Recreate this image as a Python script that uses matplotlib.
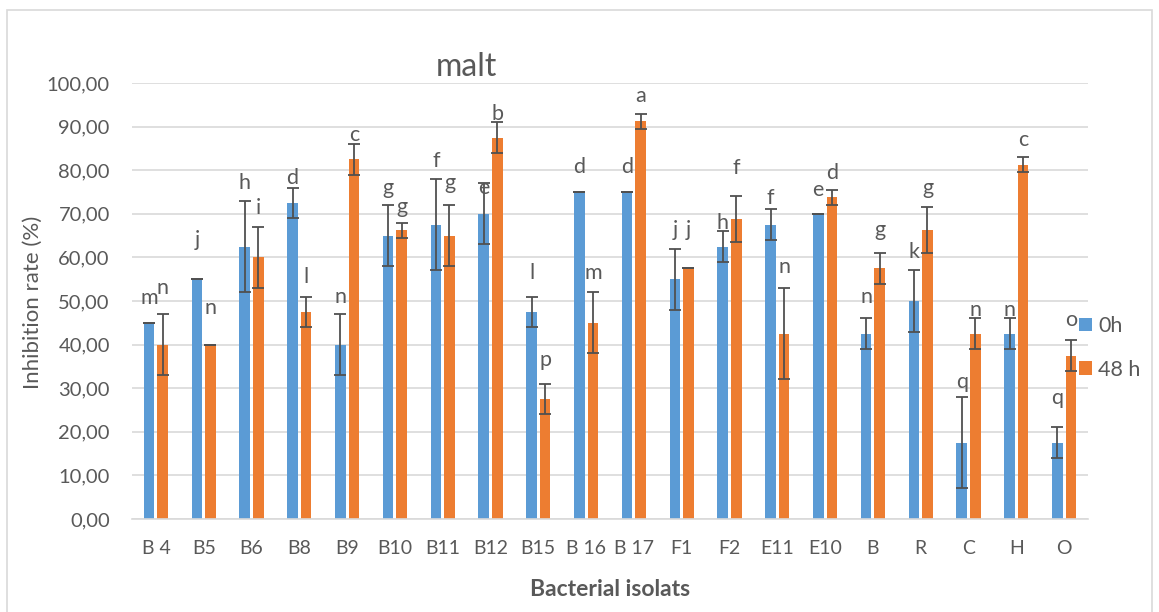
import numpy as np
import matplotlib.pyplot as plt
from matplotlib.ticker import FuncFormatter, MultipleLocator
from matplotlib.patches import Rectangle

plt.rcParams['font.family'] = ['Lato', 'DejaVu Sans']

isolates = ['B 4', 'B5', 'B6', 'B8', 'B9', 'B10', 'B11', 'B12', 'B15', 'B 16',
            'B 17', 'F1', 'F2', 'E11', 'E10', 'B', 'R', 'C', 'H', 'O']

# inhibition rate (%) with error
h0 = [45, 55, 62.5, 72.5, 40, 65, 67.5, 70, 47.5, 75,
      75, 55, 62.5, 67.5, 70, 42.5, 50, 17.5, 42.5, 17.5]
h0_err = [0, 0, 10.5, 3.5, 7, 7, 10.5, 7, 3.5, 0,
          0, 7, 3.5, 3.5, 0, 3.5, 7, 10.5, 3.5, 3.5]
h48 = [40, 40, 60, 47.5, 82.5, 66.25, 65, 87.5, 27.5, 45,
       91.25, 57.5, 68.75, 42.5, 73.75, 57.5, 66.25, 42.5, 81.25, 37.5]
h48_err = [7, 0, 7, 3.5, 3.5, 1.75, 7, 3.5, 3.5, 7,
           1.75, 0, 5.25, 10.5, 1.75, 3.5, 5.25, 3.5, 1.75, 3.5]

# significance letters
h0_letters = ['m', 'j', 'h', 'd', 'n', 'g', 'f', 'e', 'l', 'd',
              'd', 'j', 'h', 'f', 'e', 'n', 'k', 'q', 'n', 'q']
h48_letters = ['n', 'n', 'i', 'l', 'c', 'g', 'g', 'b', 'p', 'm',
               'a', 'j', 'f', 'n', 'd', 'g', 'g', 'n', 'c', 'o']
# where the letters sit (y, in %)
h0_label_y = [50.7, 64, 77, 78.2, 51, 76, 82, 76, 56.4, 80.7,
              80.7, 66.3, 68, 73.6, 75.5, 51, 61.2, 31.4, 48, 27.8]
h48_label_y = [53, 48.4, 71.3, 55.5, 88, 71.6, 77, 93, 36.5, 56.4,
               97, 66.3, 80.5, 57.8, 79.4, 66.3, 76, 48, 87, 45.6]

blue = '#5B9BD5'
orange = '#ED7D31'
txt = '#595959'

fig = plt.figure(figsize=(11.59, 6.12), dpi=100)
ax = fig.add_axes([132 / 1159, 1 - 519 / 612, (1088 - 132) / 1159, (519 - 83) / 612])

x = np.arange(len(isolates))
w = 0.22
off = 0.142
ax.bar(x - off, h0, w, color=blue, label='0h', zorder=2)
ax.bar(x + off, h48, w, color=orange, label='48 h', zorder=2)
ekw = dict(fmt='none', ecolor='#505050', elinewidth=1.3, capsize=4, capthick=1.3, zorder=3)
ax.errorbar(x - off, h0, yerr=h0_err, **ekw)
ax.errorbar(x + off, h48, yerr=h48_err, **ekw)

for i in range(len(isolates)):
    ax.text(x[i] - off, h0_label_y[i], h0_letters[i], ha='center', va='center',
            fontsize=15.5, color=txt, clip_on=False)
    ax.text(x[i] + off, h48_label_y[i], h48_letters[i], ha='center', va='center',
            fontsize=15.5, color=txt, clip_on=False)

ax.set_xlim(-0.5, len(isolates) - 0.5)
ax.set_ylim(0, 100)
ax.yaxis.set_major_locator(MultipleLocator(10))
ax.yaxis.set_major_formatter(FuncFormatter(lambda v, p: f'{v:.2f}'.replace('.', ',')))
ax.set_xticks(x)
ax.set_xticklabels(isolates)
ax.tick_params(axis='both', length=0, labelsize=14, labelcolor=txt)
ax.tick_params(axis='y', labelsize=14.5, pad=16)
ax.tick_params(axis='x', pad=15)
ax.grid(axis='y', color='#D9D9D9', linewidth=1.2, zorder=0)
for s in ['top', 'right', 'left']:
    ax.spines[s].set_visible(False)
ax.spines['bottom'].set_color('#D9D9D9')
ax.spines['bottom'].set_linewidth(1.2)

fig.text(466 / 1159, 1 - 67 / 612, 'malt', ha='center', va='center', fontsize=23, color=txt)
fig.text(33 / 1159, 1 - 302 / 612, 'Inhibition rate (%)', ha='center', va='center',
         rotation=90, fontsize=16, color=txt)
fig.text(610 / 1159, 1 - 590 / 612, 'Bacterial isolats', ha='center', va='center',
         fontsize=16.5, fontweight='bold', color=txt)

ax.legend(loc='center left', bbox_to_anchor=(1079 / 1159, 1 - 348 / 612),
          bbox_transform=fig.transFigure, frameon=False, fontsize=15.5, labelcolor=txt,
          borderaxespad=0, borderpad=0, handlelength=0.6, handleheight=0.6,
          handletextpad=0.3, labelspacing=1.1)

# chart border
fig.patches.append(Rectangle((7 / 1159, -0.01), (1152 - 7) / 1159, 1 - 10 / 612 + 0.01,
                             transform=fig.transFigure, fill=False, edgecolor='#D9D9D9',
                             linewidth=1.2))

fig.savefig('out.png', dpi=100)
